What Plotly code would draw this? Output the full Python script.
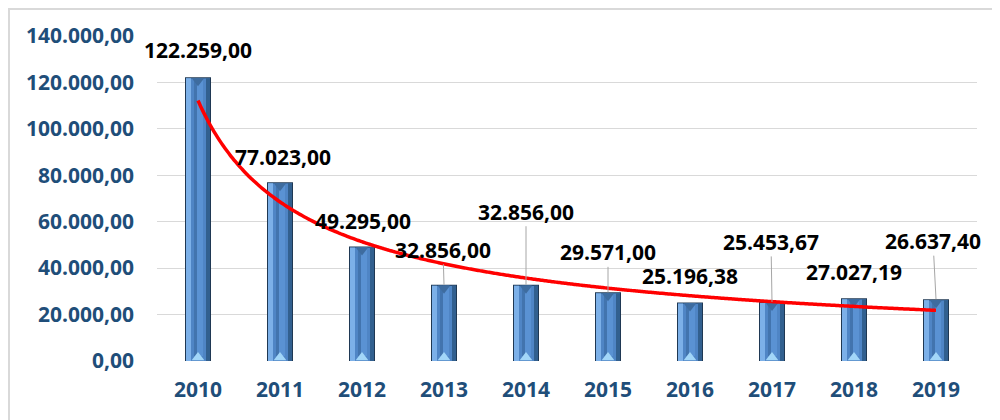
import numpy as np
import plotly.graph_objects as go

# ---- data ----
years = ["2010", "2011", "2012", "2013", "2014", "2015", "2016", "2017", "2018", "2019"]
values = [122259.00, 77023.00, 49295.00, 32856.00, 32856.00, 29571.00,
          25196.38, 25453.67, 27027.19, 26637.40]
y_ticks = [0, 20000, 40000, 60000, 80000, 100000, 120000, 140000]

# ---- label placement (pixel offsets of label centre from bar top) ----
label_dx = [0, 3, 1, -1, 0, 0, 0, -1, 0, -3]
label_dy = [-27, -25, -26, -35, -73, -40, -27, -60, -26, -58]
label_leader = [False, False, False, True, True, True, False, True, False, True]

# ---- geometry helpers ----
W, H = 1000, 420
M_L, M_R, M_T, M_B = 149, 31, 28, 67
plot_w = W - M_L - M_R
plot_h = H - M_T - M_B
Y_MAX = 140000
n = len(years)
px_x = n / plot_w          # category units per pixel
px_y = Y_MAX / plot_h      # value units per pixel

idx = np.arange(n)
vals = np.array(values)

fig = go.Figure()

def layer(y, off_px, w_px, color, base=None):
    fig.add_trace(go.Bar(
        x=idx, y=y, base=base,
        offset=off_px * px_x, width=w_px * px_x,
        marker=dict(color=color, line=dict(width=0)),
        hoverinfo="skip", showlegend=False))

# bevelled bar made of overlaid layers
layer(vals, -13, 26, "#1f3853")
layer(vals - px_y, -12, 24, "#4f85c5")
layer(vals - px_y, -12, 5, "#7cb0e8")
layer(vals - px_y, 8, 4, "#32608f")
layer(vals - 6 * px_y, -4, 3, "#4274ae", base=np.full(n, 5 * px_y))
layer(vals - 6 * px_y, -1, 6, "#5a92d3", base=np.full(n, 5 * px_y))

# top (dark) and bottom (light) bevel triangles
fig.add_trace(go.Scatter(
    x=idx, y=vals - 3.5 * px_y, mode="markers",
    marker=dict(symbol="triangle-down", size=11, color="#3e6c9f", line=dict(width=0)),
    hoverinfo="skip", showlegend=False))
fig.add_trace(go.Scatter(
    x=idx, y=np.full(n, 3.5 * px_y), mode="markers",
    marker=dict(symbol="triangle-up", size=11, color="#a2d6f8", line=dict(width=0)),
    hoverinfo="skip", showlegend=False))

# power trend line (least squares on logs, as a spreadsheet power trendline)
b, ln_a = np.polyfit(np.log(idx + 1), np.log(vals), 1)
xt = np.linspace(0, n - 1, 300)
yt = np.exp(ln_a) * (xt + 1) ** b
fig.add_trace(go.Scatter(
    x=xt, y=yt, mode="lines",
    line=dict(color="#ff0000", width=3.5, shape="spline"),
    hoverinfo="skip", showlegend=False))

def fmt(v):
    s = f"{v:,.2f}"
    return s.replace(",", "X").replace(".", ",").replace("X", ".")

label_font = dict(family="Open Sans", size=21, color="#000000", weight="bold")
for i, v in enumerate(values):
    if label_leader[i]:
        fig.add_annotation(
            x=i, y=v, text=fmt(v), showarrow=True,
            ax=label_dx[i], ay=label_dy[i], axref="pixel", ayref="pixel",
            arrowhead=0, arrowwidth=1, arrowcolor="#a6a6a6", standoff=0,
            font=label_font, borderpad=0)
    else:
        fig.add_annotation(
            x=i, y=v, text=fmt(v), showarrow=False,
            xshift=label_dx[i], yshift=-label_dy[i],
            font=label_font)

tick_font = dict(family="Open Sans", size=21, color="#1f4e79", weight="bold")

fig.update_layout(
    width=W, height=H,
    margin=dict(l=M_L, r=M_R, t=M_T, b=M_B),
    paper_bgcolor="white", plot_bgcolor="white",
    barmode="overlay",
    separators=",.",
    showlegend=False,
    xaxis=dict(
        range=[-0.5, n - 0.5], tickvals=list(idx), ticktext=years,
        showgrid=False, zeroline=False, showline=False, ticks="",
        tickfont=tick_font, ticklabelstandoff=14, fixedrange=True),
    yaxis=dict(
        range=[0, Y_MAX], tickvals=y_ticks, tickformat=",.2f",
        showgrid=True, gridcolor="#d9d9d9", gridwidth=1.3,
        zeroline=False, showline=False, ticks="",
        tickfont=tick_font, ticklabelstandoff=22, fixedrange=True),
    shapes=[dict(
        type="rect", xref="paper", yref="paper",
        x0=(1 - M_L) / plot_w, x1=(W + 20 - M_L) / plot_w,
        y0=(H - M_B - (H + 20)) / plot_h, y1=(H - M_B - 1) / plot_h,
        line=dict(color="#d9d9d9", width=2), fillcolor="rgba(0,0,0,0)",
        layer="below")],
)

fig.write_html("out.html")
